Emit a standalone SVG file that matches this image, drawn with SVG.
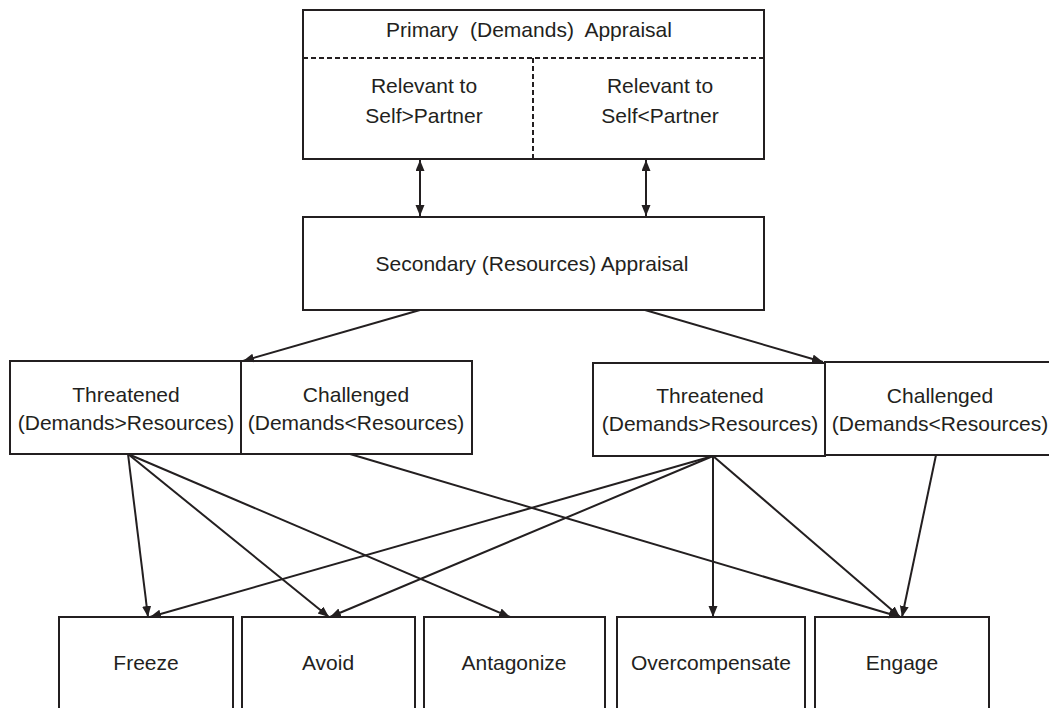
<svg xmlns="http://www.w3.org/2000/svg" width="1049" height="708" viewBox="0 0 1049 708">
  <style>
    .box { fill: #ffffff; stroke: #231f20; stroke-width: 2; }
    .dash { fill: none; stroke: #231f20; stroke-width: 2; stroke-dasharray: 5 3; }
    .lbl { font-family: "Liberation Sans", Arial, Helvetica, sans-serif; font-size: 21px; fill: #231f20; text-anchor: middle; white-space: pre; }
    .con { fill: none; stroke: #231f20; stroke-width: 2; }
  </style>
  <defs>
    <marker id="ah" markerUnits="userSpaceOnUse" markerWidth="12" markerHeight="10" refX="11" refY="4.5" orient="auto-start-reverse">
      <path d="M0,0 L11,4.5 L0,9 z" fill="#231f20"/>
    </marker>
  </defs>
  <rect width="1049" height="708" fill="#ffffff"/>

  <g id="primary">
    <rect class="box" x="303" y="10" width="461" height="149"/>
    <line class="dash" x1="303" y1="58" x2="764" y2="58"/>
    <line class="dash" x1="533" y1="58" x2="533" y2="159"/>
    <text class="lbl" x="529" y="37" xml:space="preserve">Primary  (Demands)  Appraisal</text>
    <text class="lbl" x="424" y="93">Relevant to</text>
    <text class="lbl" x="424" y="123">Self&gt;Partner</text>
    <text class="lbl" x="660" y="93">Relevant to</text>
    <text class="lbl" x="660" y="123">Self&lt;Partner</text>
  </g>

  <g id="secondary">
    <rect class="box" x="303" y="217" width="461" height="93"/>
    <text class="lbl" x="532" y="271">Secondary (Resources) Appraisal</text>
  </g>

  <g id="threatened-left">
    <rect class="box" x="10" y="361" width="231" height="93"/>
    <text class="lbl" x="126" y="402">Threatened</text>
    <text class="lbl" x="126" y="430">(Demands&gt;Resources)</text>
  </g>
  <g id="challenged-left">
    <rect class="box" x="241" y="361" width="231" height="93"/>
    <text class="lbl" x="356" y="402">Challenged</text>
    <text class="lbl" x="356" y="430">(Demands&lt;Resources)</text>
  </g>

  <g id="threatened-right">
    <rect class="box" x="593" y="363" width="232" height="93"/>
    <text class="lbl" x="710" y="403">Threatened</text>
    <text class="lbl" x="710" y="431">(Demands&gt;Resources)</text>
  </g>
  <g id="challenged-right">
    <rect class="box" x="825" y="362" width="231" height="93"/>
    <text class="lbl" x="940" y="403">Challenged</text>
    <text class="lbl" x="940" y="431">(Demands&lt;Resources)</text>
  </g>

  <g id="freeze">
    <rect class="box" x="59" y="617" width="174" height="110"/>
    <text class="lbl" x="146" y="670">Freeze</text>
  </g>
  <g id="avoid">
    <rect class="box" x="242" y="617" width="173" height="110"/>
    <text class="lbl" x="328" y="670">Avoid</text>
  </g>
  <g id="antagonize">
    <rect class="box" x="424" y="617" width="181" height="110"/>
    <text class="lbl" x="514" y="670">Antagonize</text>
  </g>
  <g id="overcompensate">
    <rect class="box" x="617" y="617" width="188" height="110"/>
    <text class="lbl" x="711" y="670">Overcompensate</text>
  </g>
  <g id="engage">
    <rect class="box" x="815" y="617" width="174" height="110"/>
    <text class="lbl" x="902" y="670">Engage</text>
  </g>

  <g id="connectors">
    <line class="con" x1="420" y1="160" x2="420" y2="216" marker-start="url(#ah)" marker-end="url(#ah)"/>
    <line class="con" x1="646" y1="160" x2="646" y2="216" marker-start="url(#ah)" marker-end="url(#ah)"/>
    <line class="con" x1="420" y1="310" x2="243" y2="361" marker-end="url(#ah)"/>
    <line class="con" x1="645" y1="310" x2="823" y2="362" marker-end="url(#ah)"/>

    <line class="con" x1="128" y1="454" x2="148" y2="617" marker-end="url(#ah)"/>
    <line class="con" x1="128" y1="454" x2="329" y2="617" marker-end="url(#ah)"/>
    <line class="con" x1="128" y1="454" x2="510" y2="617" marker-end="url(#ah)"/>
    <line class="con" x1="350" y1="454" x2="900" y2="617" marker-end="url(#ah)"/>

    <line class="con" x1="713" y1="456" x2="150" y2="617" marker-end="url(#ah)"/>
    <line class="con" x1="713" y1="456" x2="330" y2="617" marker-end="url(#ah)"/>
    <line class="con" x1="713" y1="456" x2="713" y2="617" marker-end="url(#ah)"/>
    <line class="con" x1="713" y1="456" x2="900" y2="617" marker-end="url(#ah)"/>
    <line class="con" x1="936" y1="455" x2="902" y2="617" marker-end="url(#ah)"/>
  </g>
</svg>
